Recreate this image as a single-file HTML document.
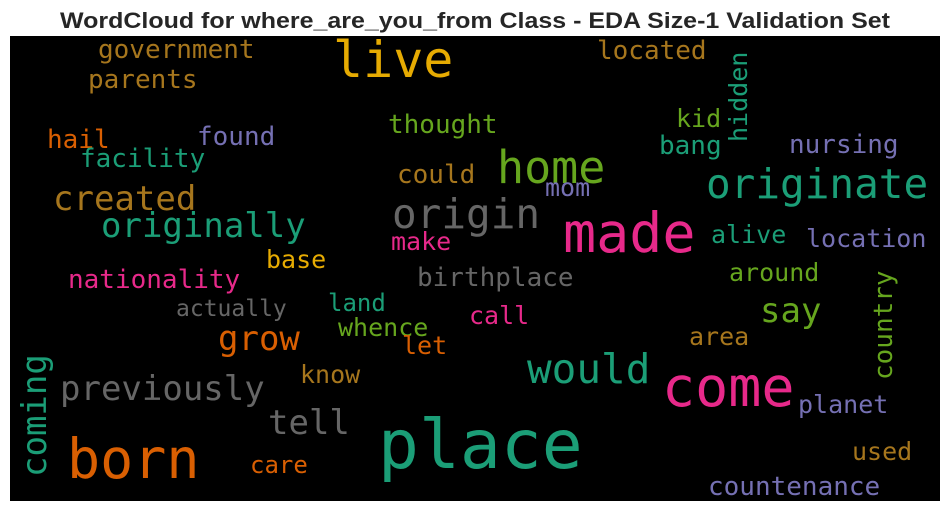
<!DOCTYPE html>
<html>
<head>
<meta charset="utf-8">
<style>
  html,body{margin:0;padding:0;background:#fff;}
  svg{display:block;}
</style>
</head>
<body>
<svg id="chart" width="950" height="511" viewBox="0 0 950 511" xmlns="http://www.w3.org/2000/svg">
  <text x="475" y="28" text-anchor="middle" font-family="Liberation Sans, Arial, sans-serif" font-weight="bold" font-size="22" fill="#262626" textLength="830" lengthAdjust="spacingAndGlyphs">WordCloud for where_are_you_from Class - EDA Size-1 Validation Set</text>
  <rect x="10" y="36" width="930" height="465" fill="#000"/>
  <g id="words"></g>
</svg>
<script>
const words = ["government","parents","live","located","hidden","kid","thought","hail","found","facility","bang","nursing","home","originate","created","could","mom","origin","made","originally","make","alive","location","base","nationality","birthplace","around","country","say","actually","land","grow","whence","call","let","area","would","coming","previously","know","come","planet","tell","place","born","used","care","countenance"];
const sizes = [26,26,50,26,25,25,26,26,26,26,26,26,45,41,34,26,25,41,55,34,25,25,25,25,26,26,25,26,34,23,24,34,25,25,25,25,41,34,34,25,55,25,34,68,55,25,24,26];
const colorIdx = [6,6,5,6,0,4,4,1,2,0,0,2,4,0,6,6,2,7,3,0,3,0,2,5,3,7,4,4,4,7,0,1,4,3,1,6,0,0,7,6,3,2,7,0,1,6,1,2];
const palette = ["#1b9e77","#d95f02","#7570b3","#e7298a","#66a61e","#e6ab02","#a6761d","#666666"];
// layout (pixel placement of each word)
const layoutX = [98,88,333,597,747,676,388,47,197,80,659,789,497,706,53,397,545,392,563,101,391,711,806,266,68,417,729,892,760,176,328,218,338,469,402,689,527,46,60,300,662,798,268,378,67,852,250,708];
const layoutY = [58,88,77,59,142,127,133,148,145,167,154,153,183,198,210,183,196,228,252,237,250,243,247,268,288,286,281,380,322,316,311,350,336,324,354,345,383,477,400,383,406,413,434,468,478,460,473,495];
const rotated = [0,0,0,0,1,0,0,0,0,0,0,0,0,0,0,0,0,0,0,0,0,0,0,0,0,0,0,1,0,0,0,0,0,0,0,0,0,1,0,0,0,0,0,0,0,0,0,0];

const g = document.getElementById('words');
const NS = "http://www.w3.org/2000/svg";
for (let i = 0; i < words.length; i++) {
  const t = document.createElementNS(NS, 'text');
  
  
  t.setAttribute('font-family', 'DejaVu Sans Mono, Liberation Mono, monospace');
  t.setAttribute('font-size', sizes[i]);
  t.setAttribute('fill', palette[colorIdx[i]]);
  if (rotated[i]) {
    t.setAttribute('x', 0);
    t.setAttribute('y', 0);
    t.setAttribute('transform', 'translate(' + layoutX[i] + ',' + layoutY[i] + ') rotate(-90)');
  } else {
    t.setAttribute('x', layoutX[i]);
    t.setAttribute('y', layoutY[i]);
  }
  t.textContent = words[i];
  g.appendChild(t);
}
</script>
</body>
</html>
